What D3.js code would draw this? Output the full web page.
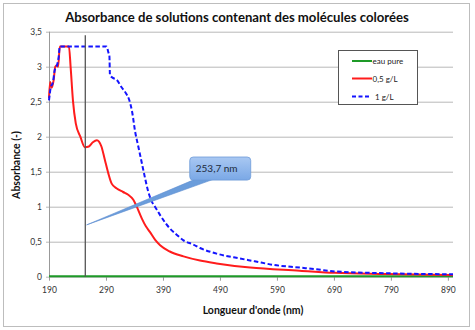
<!DOCTYPE html>
<html><head><meta charset="utf-8">
<script src="https://cdn.jsdelivr.net/npm/d3@7"></script>
<style>body{margin:0;background:#fff}svg{display:block}</style>
</head><body><svg id="c" width="475" height="330"></svg>
<script>
const title = "Absorbance de solutions contenant des molécules colorées";
const xTitle = "Longueur d'onde (nm)";
const yTitle = "Absorbance (-)";
const xTicks = [190, 290, 390, 490, 590, 690, 790, 890];
const yTicks = [0, 0.5, 1, 1.5, 2, 2.5, 3, 3.5];
const yTickLabels = ["0", "0,5", "1", "1,5", "2", "2,5", "3", "3,5"];
const seriesNames = ["eau pure", "0,5 g/L", "1 g/L"];

const wlWater = [190, 300, 400, 500, 600, 700, 800, 899];
const absWater = [0.005, 0.005, 0.005, 0.005, 0.005, 0.005, 0.005, 0.005];

const wlRed = [190,192,195,198,201,204,206,209,225,228,232,237,245,253,260,267,274,282,288,294,300,309,320,329,338,344,353,360,367,376,385,402,426,455,484,543,630,692,780,899];
const absRed = [2.55,2.78,2.70,2.80,3.0,3.02,3.0,3.29,3.29,2.99,2.52,2.19,2.0,1.85,1.86,1.92,1.95,1.86,1.67,1.48,1.33,1.26,1.21,1.17,1.10,1.0,0.83,0.72,0.64,0.53,0.45,0.36,0.29,0.23,0.19,0.13,0.086,0.055,0.04,0.025];

const wlBlue = [190,193,197,200,204,207,209,291,294,296,297,302,309,317,325,331,336,341,347,353,358,364,370,376,385,395,402,414,426,443,455,484,525,551,583,630,660,692,779,899];
const absBlue = [2.52,2.70,2.78,2.95,3.02,3.14,3.29,3.29,3.21,3.15,2.88,2.84,2.81,2.71,2.62,2.52,2.35,2.08,1.85,1.62,1.43,1.22,1.08,1.0,0.88,0.76,0.69,0.60,0.52,0.46,0.41,0.33,0.26,0.22,0.17,0.13,0.105,0.075,0.05,0.034];

const markerWl = 253.7;
const markerTop = 3.45;
const calloutText = "253,7 nm";
const calloutBox = [437, 1.71, 544, 1.38]; // nm/abs corners
const calloutTip = [256, 0.74];

const svg = d3.select("#c");
const font = "Lato, 'Open Sans', sans-serif";
const x = d3.scaleLinear().domain([190, 899]).range([49, 453]);
const y = d3.scaleLinear().domain([0, 3.5]).range([276.7, 31.7]);

svg.append("rect").attr("x", 3.5).attr("y", 3.5).attr("width", 466).attr("height", 323)
  .attr("fill", "#fff").attr("stroke", "#bdbdbd").attr("stroke-width", 1);

// grid
const yAxis = d3.axisLeft(y).tickValues(yTicks).tickSize(-(453 - 49))
  .tickFormat((d, i) => yTickLabels[i]).tickPadding(7);
const gy = svg.append("g").attr("transform", "translate(49,0)").call(yAxis);
gy.select(".domain").remove();
gy.selectAll(".tick line").attr("stroke", "#b8b8b8").attr("x1", -3);
gy.selectAll(".tick text").attr("font-family", font).attr("font-size", 8.5).attr("fill", "#333");

const xAxis = d3.axisBottom(y.copy()).tickValues([]);
const gx = svg.append("g").attr("transform", "translate(0,276.7)")
  .call(d3.axisBottom(x).tickValues(xTicks).tickSize(4).tickPadding(6).tickFormat(d3.format("d")));
gx.select(".domain").attr("stroke", "#999").attr("d", `M49,0H453`);
gx.selectAll(".tick line").attr("stroke", "#999");
gx.selectAll(".tick text").attr("font-family", font).attr("font-size", 8.5).attr("fill", "#333");

svg.append("line").attr("x1", 49.5).attr("x2", 49.5).attr("y1", y(3.5)).attr("y2", y(0))
  .attr("stroke", "#999");

// series
const line = d3.line().x(d => x(d[0])).y(d => y(d[1])).curve(d3.curveMonotoneX);
const zip = (a, b) => a.map((v, i) => [v, b[i]]);
svg.append("path").attr("d", line(zip(wlWater, absWater))).attr("fill", "none")
  .attr("stroke", "#1e9a28").attr("stroke-width", 2);
svg.append("path").attr("d", line(zip(wlRed, absRed))).attr("fill", "none")
  .attr("stroke", "#ff1c1c").attr("stroke-width", 2);
svg.append("path").attr("d", line(zip(wlBlue, absBlue))).attr("fill", "none")
  .attr("stroke", "#1414ff").attr("stroke-width", 2).attr("stroke-dasharray", "4.5,2.5");

// marker line
svg.append("line").attr("x1", x(markerWl)).attr("x2", x(markerWl))
  .attr("y1", y(markerTop)).attr("y2", y(0)).attr("stroke", "#555").attr("stroke-width", 1.3);

// callout
const defs = svg.append("defs");
const gr = defs.append("linearGradient").attr("id", "cg").attr("x1", 0).attr("y1", 0).attr("x2", 0).attr("y2", 1);
gr.append("stop").attr("offset", "0%").attr("stop-color", "#a9c8f2");
gr.append("stop").attr("offset", "100%").attr("stop-color", "#7aa8e6");
const bx0 = x(calloutBox[0]), by0 = y(calloutBox[1]), bx1 = x(calloutBox[2]), by1 = y(calloutBox[3]);
svg.append("path")
  .attr("d", `M${bx0 + 8},${by1 - 2}L${x(calloutTip[0])},${y(calloutTip[1])}L${bx0 + 27},${by1 - 2}Z`)
  .attr("fill", "#6b9ddb").attr("stroke", "#5a8bd0").attr("stroke-width", 0.6);
svg.append("rect").attr("x", bx0).attr("y", by0).attr("width", bx1 - bx0).attr("height", by1 - by0)
  .attr("rx", 3.5).attr("fill", "url(#cg)").attr("stroke", "#6d9bd8").attr("stroke-width", 0.8);
svg.append("text").attr("x", bx0 + 6).attr("y", (by0 + by1) / 2 + 3.5).text(calloutText)
  .attr("font-family", font).attr("font-size", 10).attr("fill", "#1d2a3a");

// titles
const t = svg.append("text").attr("x", 237).attr("y", 22).attr("text-anchor", "middle")
  .attr("font-family", font).attr("font-weight", "bold").attr("font-size", 13).attr("fill", "#111").text(title);
const tw = t.node().getComputedTextLength();
t.attr("font-size", 13 * 344 / tw);
svg.append("text").attr("x", 253).attr("y", 314).attr("text-anchor", "middle")
  .attr("font-family", font).attr("font-weight", "bold").attr("font-size", 10.5).attr("fill", "#111").text(xTitle);
svg.append("text").attr("transform", "translate(20,165) rotate(-90)").attr("text-anchor", "middle")
  .attr("font-family", font).attr("font-weight", "bold").attr("font-size", 10.5).attr("fill", "#111").text(yTitle);

// legend
const lg = svg.append("g");
lg.append("rect").attr("x", 338.5).attr("y", 50.5).attr("width", 79).attr("height", 54)
  .attr("fill", "#fff").attr("stroke", "#555").attr("stroke-width", 1);
const lcol = ["#1e9a28", "#ff1c1c", "#1414ff"];
const ly = [61, 78.5, 96.5];
seriesNames.forEach((n, i) => {
  lg.append("line").attr("x1", 352).attr("x2", i === 2 ? 370 : 372).attr("y1", ly[i]).attr("y2", ly[i])
    .attr("stroke", lcol[i]).attr("stroke-width", 2).attr("stroke-dasharray", i === 2 ? "4,2.5" : null);
  lg.append("text").attr("x", i === 2 ? 375 : 372.5).attr("y", ly[i] + 3).text(n)
    .attr("font-family", font).attr("font-size", 8).attr("fill", "#222");
});
</script></body></html>
